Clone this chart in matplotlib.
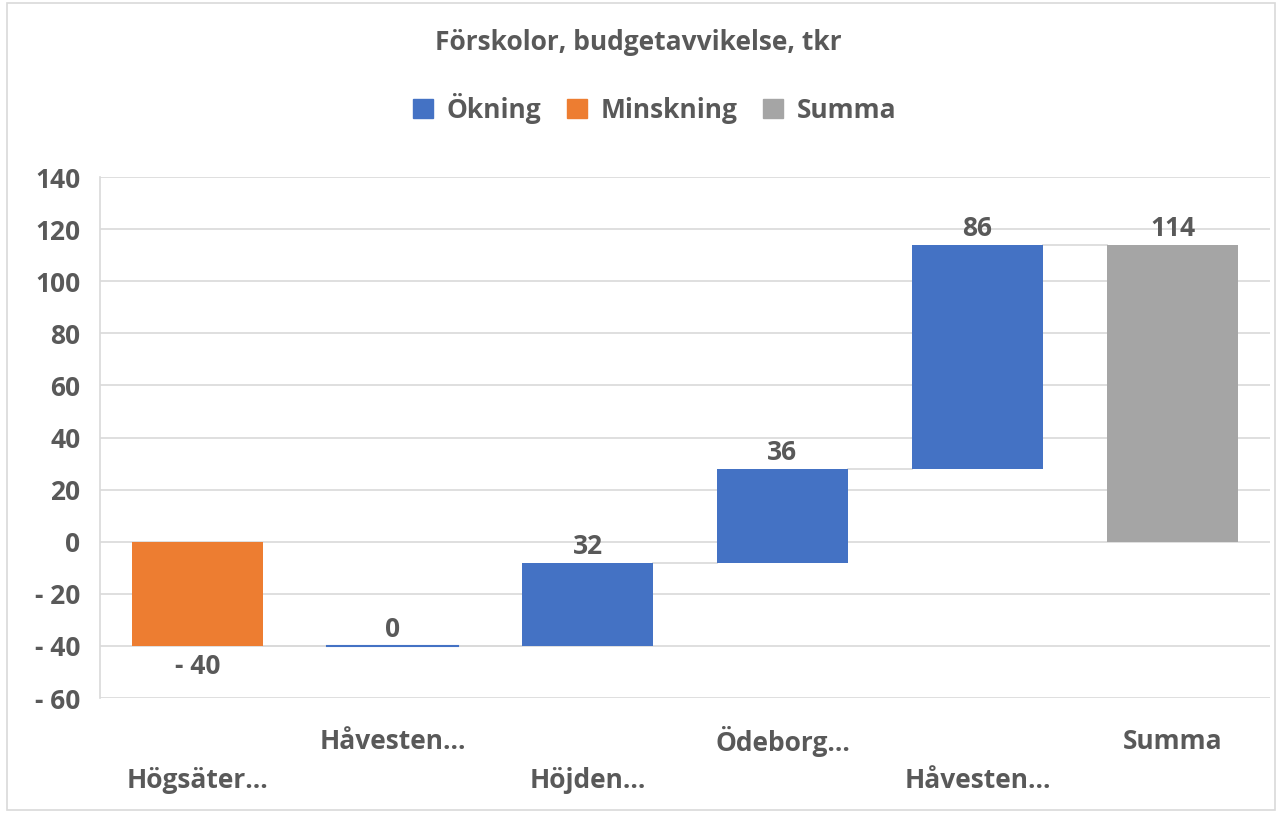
import matplotlib
matplotlib.use("Agg")
import matplotlib.pyplot as plt
from matplotlib.patches import Patch, Rectangle

# Data
categories = ["Högsäter...", "Håvesten...", "Höjden...", "Ödeborg...", "Håvesten...", "Summa"]
changes = [-40, 0, 32, 36, 86]
total_label = "Summa"
yticks = [-60, -40, -20, 0, 20, 40, 60, 80, 100, 120, 140]

blue = "#4472C4"
orange = "#ED7D31"
grey = "#A5A5A5"
text_col = "#595959"
grid_col = "#D9D9D9"

plt.rcParams["font.family"] = ["Open Sans", "DejaVu Sans"]
plt.rcParams["font.weight"] = "bold"

fig = plt.figure(figsize=(12.76, 8.13), dpi=100)
ax = fig.add_axes([100 / 1276, 1 - 698 / 813, 1170 / 1276, 521 / 813])

# running totals for the waterfall
bottoms, heights, colors = [], [], []
level = 0
for c in changes:
    if c < 0:
        bottoms.append(level + c)
        heights.append(-c)
        colors.append(orange)
    else:
        bottoms.append(level)
        heights.append(c)
        colors.append(blue)
    level += c
total = level
bottoms.append(0)
heights.append(total)
colors.append(grey)

x = list(range(len(categories)))
width = 0.667
for i in x:
    h = heights[i]
    if h == 0:
        ax.plot([i - width / 2, i + width / 2], [bottoms[i], bottoms[i]], color=colors[i], lw=1.5, zorder=3)
    else:
        ax.bar(i, h, bottom=bottoms[i], width=width, color=colors[i], zorder=3)

# connector lines between bars
ends = []
level = 0
for c in changes:
    level += c
    ends.append(level)
for i in range(len(ends)):
    ax.plot([i + width / 2, i + 1 - width / 2], [ends[i], ends[i]], color=grid_col, lw=1.2, zorder=2)

# data labels
fs = 19
for i, c in enumerate(changes):
    if c < 0:
        y = bottoms[i]
        txt = "- %d" % abs(c)
        va = "top"
        off = -5
    else:
        y = bottoms[i] + heights[i]
        txt = "%d" % c
        va = "bottom"
        off = 2
    ax.annotate(txt, (i, y), xytext=(0, off), textcoords="offset points", ha="center", va=va,
                fontsize=fs, color=text_col, fontweight="bold")
ax.annotate("%d" % total, (len(x) - 1, total), xytext=(0, 2), textcoords="offset points",
            ha="center", va="bottom", fontsize=fs, color=text_col, fontweight="bold")

ax.set_xlim(-0.5, len(categories) - 0.5)
ax.set_ylim(-60, 140)
ax.set_yticks(yticks)
ax.set_yticklabels([("- %d" % abs(v)) if v < 0 else str(v) for v in yticks],
                   fontsize=fs, color=text_col, fontweight="bold")
ax.tick_params(axis="y", length=0, pad=14)
ax.tick_params(axis="x", length=0)
ax.set_xticks([])
ax.grid(axis="y", color=grid_col, lw=1.2, zorder=0)
for s in ["top", "right", "bottom"]:
    ax.spines[s].set_visible(False)
ax.spines["left"].set_color(grid_col)
ax.spines["left"].set_linewidth(1.2)

# staggered category labels
for i, name in enumerate(categories):
    ypix = 780 if i % 2 == 0 else 741
    if name == total_label:
        ypix = 741
    fig.text(ax.transData.transform((i, 0))[0] / 1276, 1 - ypix / 813, name,
             ha="center", va="center", fontsize=fs, color=text_col, fontweight="bold")

fig.text(0.5, 1 - 42 / 813, "Förskolor, budgetavvikelse, tkr", ha="center", va="center",
         fontsize=19, color=text_col, fontweight="bold")

handles = [Patch(color=blue, label="Ökning"), Patch(color=orange, label="Minskning"),
           Patch(color=grey, label="Summa")]
leg = fig.legend(handles=handles, loc="center", bbox_to_anchor=(0.513, 1 - 108 / 813), ncol=3,
                 frameon=False, fontsize=fs, handlelength=0.75, handleheight=0.75,
                 handletextpad=0.5, columnspacing=1.0)
for t in leg.get_texts():
    t.set_color(text_col)
    t.set_fontweight("bold")

# chart border
fig.patches.append(Rectangle((7 / 1276, 3 / 813), 1 - 8 / 1276, 1 - 6 / 813, transform=fig.transFigure,
                             fill=False, edgecolor=grid_col, lw=1.2))

fig.savefig("out.png", dpi=100)
